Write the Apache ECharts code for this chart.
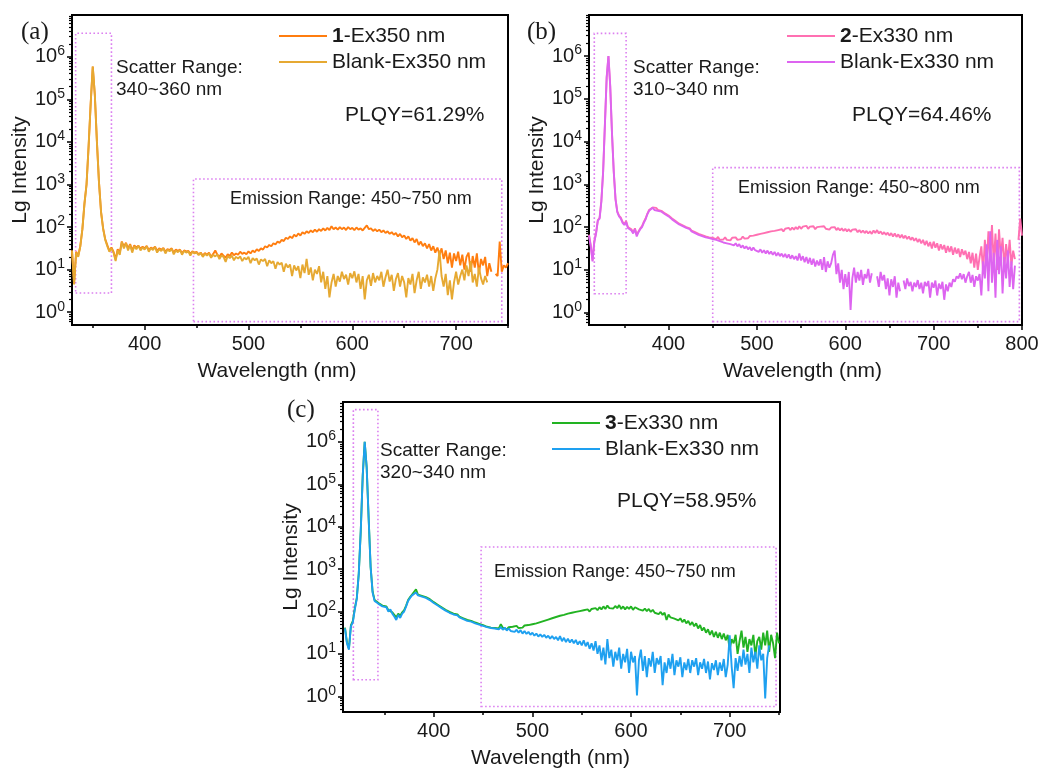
<!DOCTYPE html>
<html><head><meta charset="utf-8">
<script src="https://cdn.jsdelivr.net/npm/echarts@6/dist/echarts.min.js"></script>
<style>html,body{margin:0;padding:0;background:#fff}#chart{width:1047px;height:771px}</style>
</head><body><div id="chart"></div>
<script>
// ---------- DATA (Lg Intensity = log10 of intensity; null = gap) ----------
function range(a, b, s) { const r = []; for (let v = a; v <= b + 1e-9; v += s) r.push(v); return r; }

// Panel (a): wavelength grid 330..750 nm, 2 nm step
const A_WL = range(330, 750, 2);
const A_SAMPLE = [ // 1-Ex350 nm
 1.45,0.68,1.42,1.33,1.55,1.95,2.55,3.00,3.90,4.90,
 5.77,5.10,4.00,3.05,2.35,1.97,1.72,1.58,1.44,1.52,
 1.42,1.24,1.48,1.40,1.66,1.54,1.63,1.50,1.60,1.45,
 1.57,1.52,1.56,1.49,1.54,1.50,1.56,1.46,1.52,1.49,
 1.54,1.44,1.50,1.47,1.51,1.42,1.48,1.46,1.50,1.40,
 1.47,1.44,1.47,1.39,1.45,1.43,1.44,1.37,1.43,1.40,
 1.42,1.36,1.40,1.33,1.39,1.35,1.40,1.30,1.37,1.45,
 1.35,1.30,1.38,1.33,1.28,1.36,1.32,1.40,1.34,1.38,
 1.35,1.42,1.37,1.40,1.36,1.43,1.38,1.45,1.41,1.48,
 1.44,1.50,1.47,1.55,1.52,1.58,1.55,1.62,1.59,1.66,
 1.63,1.70,1.67,1.75,1.72,1.78,1.74,1.82,1.78,1.85,
 1.80,1.88,1.84,1.90,1.86,1.92,1.88,1.94,1.89,1.95,
 1.91,1.97,1.92,1.98,1.93,2.02,1.95,1.99,1.94,2.00,
 1.95,1.99,1.93,2.00,1.95,1.98,1.93,1.99,1.94,1.97,
 1.92,1.98,2.04,1.95,1.97,1.91,1.95,1.90,1.94,1.88,
 1.92,1.86,1.90,1.84,1.88,1.82,1.86,1.78,1.84,1.76,
 1.80,1.72,1.78,1.68,1.74,1.64,1.72,1.58,1.66,1.55,
 1.62,1.50,1.60,1.45,1.55,1.40,1.52,1.35,1.50,1.25,
 1.45,1.15,1.40,1.05,1.38,1.20,1.42,1.10,1.35,1.00,
 1.30,1.40,0.95,1.32,1.05,1.38,0.90,1.25,1.10,1.30,
 0.85,1.15,0.95,null,0.90,0.85,1.66,0.95,1.10,1.05,
 1.15];
const A_BLANK = [ // Blank-Ex350 nm
 1.45,0.65,1.40,1.30,1.55,1.95,2.55,3.00,3.90,4.90,
 5.77,5.10,4.00,3.05,2.35,1.95,1.70,1.55,1.42,1.50,
 1.40,1.20,1.45,1.35,1.65,1.50,1.62,1.45,1.58,1.40,
 1.55,1.48,1.56,1.45,1.52,1.47,1.55,1.42,1.50,1.46,
 1.53,1.40,1.48,1.44,1.50,1.38,1.47,1.43,1.49,1.36,
 1.45,1.41,1.46,1.35,1.44,1.40,1.43,1.33,1.42,1.38,
 1.40,1.34,1.39,1.30,1.37,1.33,1.38,1.28,1.35,1.31,
 1.36,1.25,1.33,1.30,1.18,1.32,1.27,1.33,1.22,1.30,
 1.26,1.31,1.20,1.28,1.24,1.30,1.15,1.27,1.22,1.26,
 1.12,1.24,1.20,1.25,1.08,1.22,1.15,1.20,1.02,1.18,
 1.12,1.16,0.95,1.14,1.05,1.12,0.85,1.10,0.98,1.08,
 0.80,1.12,0.92,1.25,0.88,1.05,0.75,1.00,0.90,1.08,
 0.70,0.95,0.55,0.85,0.35,0.70,0.90,0.60,0.85,0.72,
 0.95,0.78,0.88,0.65,0.92,0.80,0.96,0.70,0.90,0.55,
 0.85,0.30,0.75,0.88,0.62,0.92,0.70,0.85,0.75,0.95,
 0.60,0.82,1.00,0.72,0.88,0.50,0.78,0.92,0.60,0.85,
 0.70,0.35,0.80,0.65,0.90,0.45,0.75,0.95,0.55,0.82,
 0.70,0.88,0.60,0.85,0.50,0.80,1.00,1.45,0.85,0.60,
 0.90,0.40,0.75,0.30,0.70,0.95,0.65,0.85,1.00,0.75,
 1.10,0.85,1.20,0.70,0.90,0.60,1.05,0.80,0.65,0.85,
 0.70,null,null,null,null,null,null,null,null,null,
 null];

// Panel (b): wavelength grid 310..800 nm, 2 nm step
const B_WL = range(310, 800, 2);
const B_SAMPLE = [ // 2-Ex330 nm
 1.82,1.57,1.22,1.67,1.87,2.16,2.22,2.62,3.30,4.40,
 5.50,6.00,5.30,4.20,3.30,2.66,2.37,2.27,2.22,2.12,
 2.07,2.14,2.00,2.04,1.95,1.88,1.97,1.82,1.90,1.97,
 2.02,2.12,2.20,2.31,2.40,2.44,2.46,2.42,2.45,2.40,
 2.42,2.38,2.35,2.32,2.30,2.27,2.24,2.20,2.18,2.14,
 2.12,2.08,2.07,2.04,2.01,2.00,1.96,1.97,1.92,1.90,
 1.88,1.90,1.84,1.86,1.81,1.83,1.78,1.82,1.76,1.80,
 1.75,1.76,1.72,1.77,1.70,1.74,1.71,1.76,1.70,1.74,
 1.69,1.75,1.71,1.76,1.70,1.74,1.72,1.78,1.73,1.77,
 1.74,1.79,1.75,1.80,1.76,1.82,1.78,1.84,1.80,1.86,
 1.82,1.88,1.84,1.90,1.86,1.91,1.87,1.93,1.89,1.95,
 1.90,1.96,1.92,1.98,1.93,1.99,1.94,2.00,1.95,2.02,
 1.96,2.01,1.97,2.03,1.96,2.01,1.97,2.02,1.95,2.00,
 1.96,2.01,1.97,2.02,1.96,2.00,1.94,1.99,1.95,2.00,
 1.93,1.98,1.92,1.97,1.91,1.96,1.90,1.95,1.89,1.94,
 1.90,1.95,1.88,1.93,1.87,1.92,1.86,1.91,1.85,1.90,
 1.84,1.92,1.86,1.93,1.85,1.90,1.83,1.88,1.82,1.87,
 1.80,1.86,1.78,1.85,1.77,1.83,1.75,1.82,1.74,1.80,
 1.72,1.78,1.70,1.76,1.68,1.74,1.65,1.72,1.62,1.70,
 1.58,1.68,1.55,1.65,1.50,1.66,1.52,1.62,1.45,1.60,
 1.48,1.58,1.40,1.56,1.42,1.55,1.35,1.52,1.38,1.50,
 1.30,1.48,1.35,1.45,1.25,1.42,1.15,1.40,1.05,1.38,
 1.00,1.30,1.55,0.95,1.70,1.10,1.90,1.25,2.05,1.15,
 1.85,1.00,1.95,1.30,1.75,1.05,1.60,1.20,1.70,1.10,
 1.45,1.25,null,1.70,2.20,1.80];
const B_BLANK = [ // Blank-Ex330 nm
 1.80,1.55,1.20,1.65,1.85,2.15,2.20,2.60,3.30,4.40,
 5.50,6.00,5.30,4.20,3.30,2.65,2.35,2.25,2.20,2.10,
 2.05,2.12,1.98,2.02,1.92,1.85,1.95,1.78,1.88,1.95,
 2.00,2.10,2.18,2.30,2.38,2.42,2.45,2.40,2.44,2.38,
 2.41,2.36,2.34,2.30,2.28,2.25,2.22,2.18,2.16,2.12,
 2.10,2.06,2.05,2.02,1.99,1.98,1.94,1.95,1.90,1.88,
 1.86,1.87,1.82,1.84,1.79,1.80,1.76,1.80,1.74,1.77,
 1.72,1.75,1.70,1.72,1.67,1.70,1.64,1.68,1.62,1.66,
 1.60,1.64,1.57,1.62,1.55,1.60,1.52,1.57,1.50,1.55,
 1.48,1.53,1.45,1.52,1.46,1.50,1.42,1.48,1.40,1.46,
 1.38,1.45,1.37,1.43,1.35,1.42,1.33,1.40,1.32,1.38,
 1.30,1.37,1.28,1.36,1.26,1.34,1.25,1.32,1.22,1.38,
 1.22,1.32,1.18,1.30,1.15,1.28,1.12,1.26,1.08,1.22,
 1.10,1.25,1.00,1.30,0.95,1.20,1.05,1.15,1.35,1.45,
 0.90,1.15,0.70,1.00,0.55,0.90,0.60,0.95,0.06,0.80,
 1.05,0.70,0.95,0.75,1.00,0.65,0.90,0.80,1.02,0.70,
 0.92,null,null,0.85,0.60,0.95,0.75,0.88,0.55,0.80,
 0.40,0.78,0.60,0.85,0.35,0.70,0.50,null,0.75,0.55,
 0.80,0.62,0.72,0.50,0.70,0.60,0.76,0.55,0.70,0.45,
 0.72,0.62,0.74,0.35,0.70,0.58,0.75,0.40,0.68,0.55,
 0.72,0.30,0.66,0.50,0.70,0.60,0.78,0.72,0.85,0.80,
 0.92,0.78,0.90,0.70,0.85,0.95,0.70,0.88,0.60,0.85,
 0.75,0.90,0.40,1.20,0.80,1.60,0.50,1.90,0.70,1.40,
 0.35,1.70,0.90,1.55,0.45,1.30,0.80,1.45,0.60,1.20,
 0.55,1.10,null,null,null,null];

// Panel (c): wavelength grid 310..750 nm, 2 nm step
const C_WL = range(310, 750, 2);
const C_SAMPLE = [ // 3-Ex330 nm
 1.62,1.27,1.12,1.67,1.78,2.08,2.32,2.90,3.90,5.20,
 6.00,5.40,4.20,3.05,2.47,2.27,2.24,2.20,2.22,2.14,
 2.10,2.12,2.03,2.07,1.98,1.92,1.86,1.95,1.90,1.98,
 2.03,2.14,2.27,2.34,2.40,2.44,2.52,2.40,2.44,2.37,
 2.40,2.34,2.35,2.29,2.27,2.22,2.20,2.16,2.14,2.10,
 2.08,2.04,2.03,1.99,1.97,1.95,1.92,1.93,1.88,1.87,
 1.84,1.85,1.80,1.82,1.78,1.79,1.74,1.76,1.71,1.73,
 1.68,1.68,1.64,1.67,1.62,1.66,1.61,1.65,1.60,1.70,
 1.62,1.64,1.58,1.63,1.59,1.64,1.60,1.66,1.61,1.65,
 1.62,1.67,1.63,1.68,1.64,1.70,1.66,1.72,1.68,1.75,
 1.71,1.78,1.74,1.81,1.77,1.84,1.80,1.87,1.83,1.90,
 1.86,1.92,1.88,1.95,1.91,1.97,1.93,1.99,1.95,2.01,
 1.97,2.03,1.99,2.05,2.00,2.06,2.02,2.08,2.03,2.10,
 2.05,2.12,2.06,2.14,2.08,2.12,2.07,2.13,2.08,2.15,
 2.06,2.12,2.05,2.11,2.06,2.12,2.04,2.10,2.14,2.05,
 2.09,2.02,2.07,2.01,2.06,1.99,2.04,1.97,2.01,1.94,
 1.99,1.92,1.97,1.80,1.93,1.86,1.90,1.83,1.87,1.79,
 1.84,1.75,1.81,1.72,1.78,1.68,1.75,1.65,1.72,1.60,
 1.68,1.55,1.62,1.50,1.58,1.45,1.55,1.40,1.52,1.38,
 1.50,1.35,1.48,1.32,1.45,1.10,1.35,1.25,1.45,1.00,
 1.30,1.55,1.15,1.40,1.05,1.35,1.20,1.45,0.95,1.30,
 1.40,1.10,1.50,1.20,1.55,1.05,1.45,1.25,0.90,1.50,
 1.25];
const C_BLANK = [ // Blank-Ex330 nm
 1.60,1.25,1.10,1.65,1.75,2.05,2.30,2.90,3.90,5.20,
 6.00,5.40,4.20,3.05,2.45,2.25,2.22,2.18,2.20,2.12,
 2.08,2.10,2.00,2.05,1.95,1.88,1.80,1.92,1.85,1.95,
 2.00,2.12,2.25,2.32,2.38,2.42,2.45,2.38,2.42,2.35,
 2.38,2.32,2.33,2.27,2.25,2.20,2.18,2.14,2.12,2.08,
 2.06,2.02,2.01,1.97,1.95,1.93,1.90,1.91,1.86,1.85,
 1.82,1.83,1.78,1.80,1.76,1.77,1.72,1.74,1.69,1.71,
 1.66,1.68,1.63,1.66,1.61,1.65,1.60,1.64,1.58,1.63,
 1.57,1.62,1.55,1.60,1.54,1.58,1.52,1.57,1.50,1.56,
 1.48,1.54,1.47,1.52,1.45,1.50,1.43,1.48,1.41,1.46,
 1.40,1.45,1.38,1.43,1.36,1.42,1.35,1.40,1.32,1.42,
 1.30,1.38,1.28,1.36,1.27,1.34,1.25,1.33,1.22,1.30,
 1.20,1.32,1.18,1.28,1.12,1.25,1.08,1.30,1.00,1.20,
 0.85,1.15,0.75,1.35,0.90,1.10,0.70,1.05,0.85,1.15,
 0.65,1.00,0.80,1.12,0.55,1.05,0.80,0.95,0.02,0.85,
 1.10,0.60,0.95,0.45,0.90,0.70,1.05,0.55,0.90,0.75,
 0.95,0.26,0.80,0.55,0.90,0.65,1.00,0.50,0.85,0.70,
 0.92,0.45,0.80,0.62,0.88,0.55,0.85,0.70,0.90,0.50,
 0.80,0.65,0.88,0.55,0.82,0.40,0.78,0.62,0.85,0.50,
 0.80,0.60,0.88,0.45,0.75,1.44,0.70,0.19,0.90,0.60,
 0.95,0.70,1.10,0.75,1.00,0.55,1.15,0.80,1.05,0.65,
 1.20,0.85,1.00,-0.05,0.90,1.20,null,null,null,null,
 null];

// Tick values and labels
const Y_MAJOR = [0, 1, 2, 3, 4, 5, 6];            // 10^0 ... 10^6
const X_MAJOR_A = [400, 500, 600, 700];
const X_MAJOR_B = [400, 500, 600, 700, 800];
const X_MAJOR_C = [400, 500, 600, 700];
const X_MINOR = [350, 450, 550, 650, 750];
const LEGEND_LABELS = {
  a1: '{b|1}-Ex350 nm', aB: 'Blank-Ex350 nm',
  b2: '{b|2}-Ex330 nm', bB: 'Blank-Ex330 nm',
  c3: '{b|3}-Ex330 nm', cB: 'Blank-Ex330 nm'
};
// range boxes [x1, x2, lg1, lg2]
const A_BOXES = [[333.5, 368, 0.45, 6.55], [447, 744, -0.22, 3.13]];
const B_BOXES = [[316, 352, 0.44, 6.53], [450, 797, -0.21, 3.39]];
const C_BOXES = [[318.5, 343.4, 0.39, 6.76], [448, 747, -0.24, 3.52]];

// ---------- CHART ----------
const FONT = '"Liberation Sans", Arial, Helvetica, sans-serif';
const SERIF = '"Liberation Serif", "Times New Roman", serif';
const TXT = '#1a1a1a';
const BOXCOL = '#dc80f0';

function pairs(wl, lg) { return wl.map((x, i) => [x, (lg[i] === null || lg[i] === undefined) ? '-' : lg[i]]); }
function minorY(min, max) {
  const r = [];
  for (let n = -1; n <= 7; n++) for (let k = 2; k <= 9; k++) {
    const v = n + Math.log10(k); if (v > min && v < max) r.push(v);
  }
  return r;
}

const panels = [
  { grid: {left: 72, top: 15, width: 436, height: 310}, xMin: 330, xMax: 750, yMin: -0.30, yMax: 6.98,
    xMajor: X_MAJOR_A, namePad: 26, wl: A_WL, s: A_SAMPLE, b: A_BLANK, names: ['a1', 'aB'],
    colors: ['#ff7d0f', '#e6a932'], boxes: A_BOXES, legend: {left: 279, top: 23} },
  { grid: {left: 589, top: 15, width: 433, height: 310}, xMin: 310, xMax: 800, yMin: -0.29, yMax: 6.96,
    xMajor: X_MAJOR_B, namePad: 6, wl: B_WL, s: B_SAMPLE, b: B_BLANK, names: ['b2', 'bB'],
    colors: ['#ff70b2', '#dd64f0'], boxes: B_BOXES, legend: {left: 787, top: 23} },
  { grid: {left: 343, top: 402, width: 437, height: 310}, xMin: 308, xMax: 751, yMin: -0.37, yMax: 6.94,
    xMajor: X_MAJOR_C, namePad: 22, wl: C_WL, s: C_SAMPLE, b: C_BLANK, names: ['c3', 'cB'],
    colors: ['#22b322', '#1ea0f0'], boxes: C_BOXES, legend: {left: 552, top: 410} }
];

const grids = [], xAxes = [], yAxes = [], series = [], legends = [];
panels.forEach((p, g) => {
  grids.push(Object.assign({show: true, borderColor: '#000', borderWidth: 2, backgroundColor: 'transparent'}, p.grid));
  const tickLine = {color: '#000', width: 1.5};
  xAxes.push({
    type: 'value', gridIndex: g, position: 'bottom', offset: 0, min: p.xMin, max: p.xMax,
    axisLine: {show: true, onZero: false, lineStyle: {color: '#000', width: 2}},
    axisTick: {show: true, length: 5, customValues: p.xMajor, lineStyle: tickLine},
    axisLabel: {customValues: p.xMajor, margin: 9, fontSize: 20, fontFamily: FONT, color: TXT},
    splitLine: {show: false},
    name: 'Wavelength (nm)', nameLocation: 'middle', nameGap: 36,
    nameTextStyle: {fontSize: 21, fontFamily: FONT, color: TXT, padding: [0, p.namePad, 0, 0]}
  });
  xAxes.push({
    type: 'value', gridIndex: g, position: 'bottom', offset: 0, min: p.xMin, max: p.xMax,
    axisLine: {show: false, onZero: false},
    axisTick: {show: true, length: 3, customValues: X_MINOR, lineStyle: tickLine},
    axisLabel: {show: false}, splitLine: {show: false}
  });
  yAxes.push({
    type: 'value', gridIndex: g, position: 'left', offset: 0, min: p.yMin, max: p.yMax,
    axisLine: {show: true, onZero: false, lineStyle: {color: '#000', width: 2}},
    axisTick: {show: true, length: 5, customValues: Y_MAJOR, lineStyle: tickLine},
    axisLabel: {
      customValues: Y_MAJOR, margin: 7,
      formatter: v => '{m|10}{s|' + Math.round(v) + '}',
      rich: {
        m: {fontSize: 20, fontFamily: FONT, color: TXT},
        s: {fontSize: 14, fontFamily: FONT, color: TXT, padding: [0, 0, 11, 0]}
      }
    },
    splitLine: {show: false},
    name: 'Lg Intensity', nameLocation: 'middle', nameGap: 41,
    nameTextStyle: {fontSize: 21, fontFamily: FONT, color: TXT}
  });
  yAxes.push({
    type: 'value', gridIndex: g, position: 'left', offset: 0, min: p.yMin, max: p.yMax,
    axisLine: {show: false, onZero: false},
    axisTick: {show: true, length: 3, customValues: minorY(p.yMin, p.yMax), lineStyle: {color: '#000', width: 1.2}},
    axisLabel: {show: false}, splitLine: {show: false}
  });
  const xi = g * 2, yi = g * 2;
  series.push({
    type: 'line', name: p.names[0], xAxisIndex: xi, yAxisIndex: yi, data: pairs(p.wl, p.s),
    showSymbol: false, symbol: 'none', color: p.colors[0], lineStyle: {color: p.colors[0], width: 1.9},
    connectNulls: false, silent: true,
    markArea: {
      silent: true,
      itemStyle: {color: 'rgba(0,0,0,0)', borderColor: BOXCOL, borderWidth: 1.6, borderType: [1.6, 2.4]},
      data: p.boxes.map(bx => [{xAxis: bx[0], yAxis: bx[2]}, {xAxis: bx[1], yAxis: bx[3]}])
    }
  });
  series.push({
    type: 'line', name: p.names[1], xAxisIndex: xi, yAxisIndex: yi, data: pairs(p.wl, p.b),
    showSymbol: false, symbol: 'none', color: p.colors[1], lineStyle: {color: p.colors[1], width: 1.9},
    connectNulls: false, silent: true
  });
  legends.push({
    orient: 'vertical', left: p.legend.left, top: p.legend.top, padding: 0, itemGap: 0,
    icon: 'rect', itemWidth: 48, itemHeight: 2, selectedMode: false,
    data: p.names, formatter: n => LEGEND_LABELS[n],
    textStyle: {fontSize: 21, fontFamily: FONT, color: TXT, lineHeight: 26,
      rich: {b: {fontSize: 21, fontFamily: FONT, color: TXT, fontWeight: 'bold', lineHeight: 26}}}
  });
});

function txt(x, y, text, size, family, lh) {
  return {type: 'text', x: x, y: y, silent: true,
    style: {text: text, fontSize: size, fontFamily: family || FONT, fill: TXT,
      align: 'left', verticalAlign: 'middle', lineHeight: lh || size + 2}};
}
const graphics = [
  txt(21, 32, '(a)', 25, SERIF), txt(527, 32, '(b)', 25, SERIF), txt(287, 410, '(c)', 25, SERIF),
  txt(116, 79, 'Scatter Range:\n340~360 nm', 19, FONT, 22),
  txt(633, 79, 'Scatter Range:\n310~340 nm', 19, FONT, 22),
  txt(380, 462, 'Scatter Range:\n320~340 nm', 19, FONT, 22),
  txt(345, 115, 'PLQY=61.29%', 21), txt(852, 115, 'PLQY=64.46%', 21), txt(617, 501, 'PLQY=58.95%', 21),
  txt(230, 199, 'Emission Range: 450~750 nm', 18),
  txt(738, 188, 'Emission Range: 450~800 nm', 18),
  txt(494, 572, 'Emission Range: 450~750 nm', 18)
];

const chart = echarts.init(document.getElementById('chart'), null, {renderer: 'canvas'});
chart.setOption({
  animation: false, backgroundColor: '#fff',
  grid: grids, xAxis: xAxes, yAxis: yAxes, series: series, legend: legends, graphic: graphics
});
</script></body></html>
